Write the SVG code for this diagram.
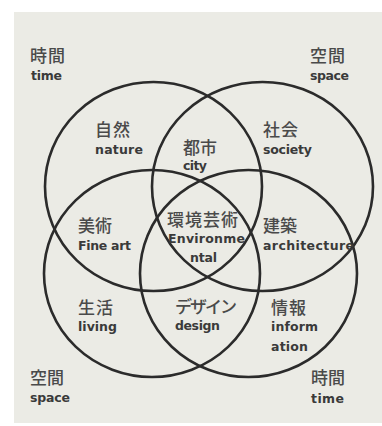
<svg xmlns="http://www.w3.org/2000/svg" width="382" height="426" viewBox="0 0 382 426">
<style>
.ring{fill:none;stroke:#2b2b2b;stroke-width:2.6}
.jp{font-family:"Noto Sans CJK JP","Noto Sans",sans-serif;font-size:17px;font-weight:500;fill:#4a4a4a}
.en{font-family:"DejaVu Sans","Liberation Sans",sans-serif;font-size:12.5px;font-weight:bold;fill:#3a3a3a}
</style>
<rect x="0" y="0" width="382" height="426" fill="#ffffff"/>
<rect x="14" y="12" width="368" height="411" fill="#ebebe5"/>
<g id="connectors">
<ellipse class="ring" cx="153.5" cy="186.5" rx="108.5" ry="104.5"/>
<ellipse class="ring" cx="262.5" cy="186.5" rx="110.5" ry="104.5"/>
<ellipse class="ring" cx="152" cy="273.5" rx="108" ry="103.5"/>
<ellipse class="ring" cx="248.5" cy="273.5" rx="108.5" ry="103.5"/>
</g>
<g id="time-tl"><text class="jp" x="30" y="62" textLength="35">時間</text><text class="en" x="31" y="80" textLength="31">time</text></g>
<g id="space-tr"><text class="jp" x="310" y="62" textLength="35">空間</text><text class="en" x="310" y="80" textLength="39">space</text></g>
<g id="nature"><text class="jp" x="95" y="136" textLength="35">自然</text><text class="en" x="95" y="154" textLength="48">nature</text></g>
<g id="city"><text class="jp" x="183" y="154" textLength="34">都市</text><text class="en" x="183" y="170" textLength="24">city</text></g>
<g id="society"><text class="jp" x="263" y="136" textLength="35">社会</text><text class="en" x="263" y="154" textLength="49">society</text></g>
<g id="fineart"><text class="jp" x="78" y="232" textLength="34">美術</text><text class="en" x="78" y="250" textLength="53">Fine art</text></g>
<g id="environmental"><text class="jp" x="167" y="226" textLength="71">環境芸術</text><text class="en" x="168" y="243" textLength="77">Environme</text><text class="en" x="190" y="262" textLength="27">ntal</text></g>
<g id="architecture"><text class="jp" x="263" y="232" textLength="34">建築</text><text class="en" x="263" y="250" textLength="91">architecture</text></g>
<g id="living"><text class="jp" x="78" y="314" textLength="35">生活</text><text class="en" x="78" y="331" textLength="39">living</text></g>
<g id="design"><text class="jp" x="175" y="313" textLength="62">デザイン</text><text class="en" x="175" y="330" textLength="45">design</text></g>
<g id="information"><text class="jp" x="271" y="314" textLength="35">情報</text><text class="en" x="271" y="331" textLength="47">inform</text><text class="en" x="271" y="351" textLength="37">ation</text></g>
<g id="space-bl"><text class="jp" x="30" y="384" textLength="34">空間</text><text class="en" x="30" y="402" textLength="40">space</text></g>
<g id="time-br"><text class="jp" x="311" y="384" textLength="34">時間</text><text class="en" x="311" y="403" textLength="33">time</text></g>
</svg>
